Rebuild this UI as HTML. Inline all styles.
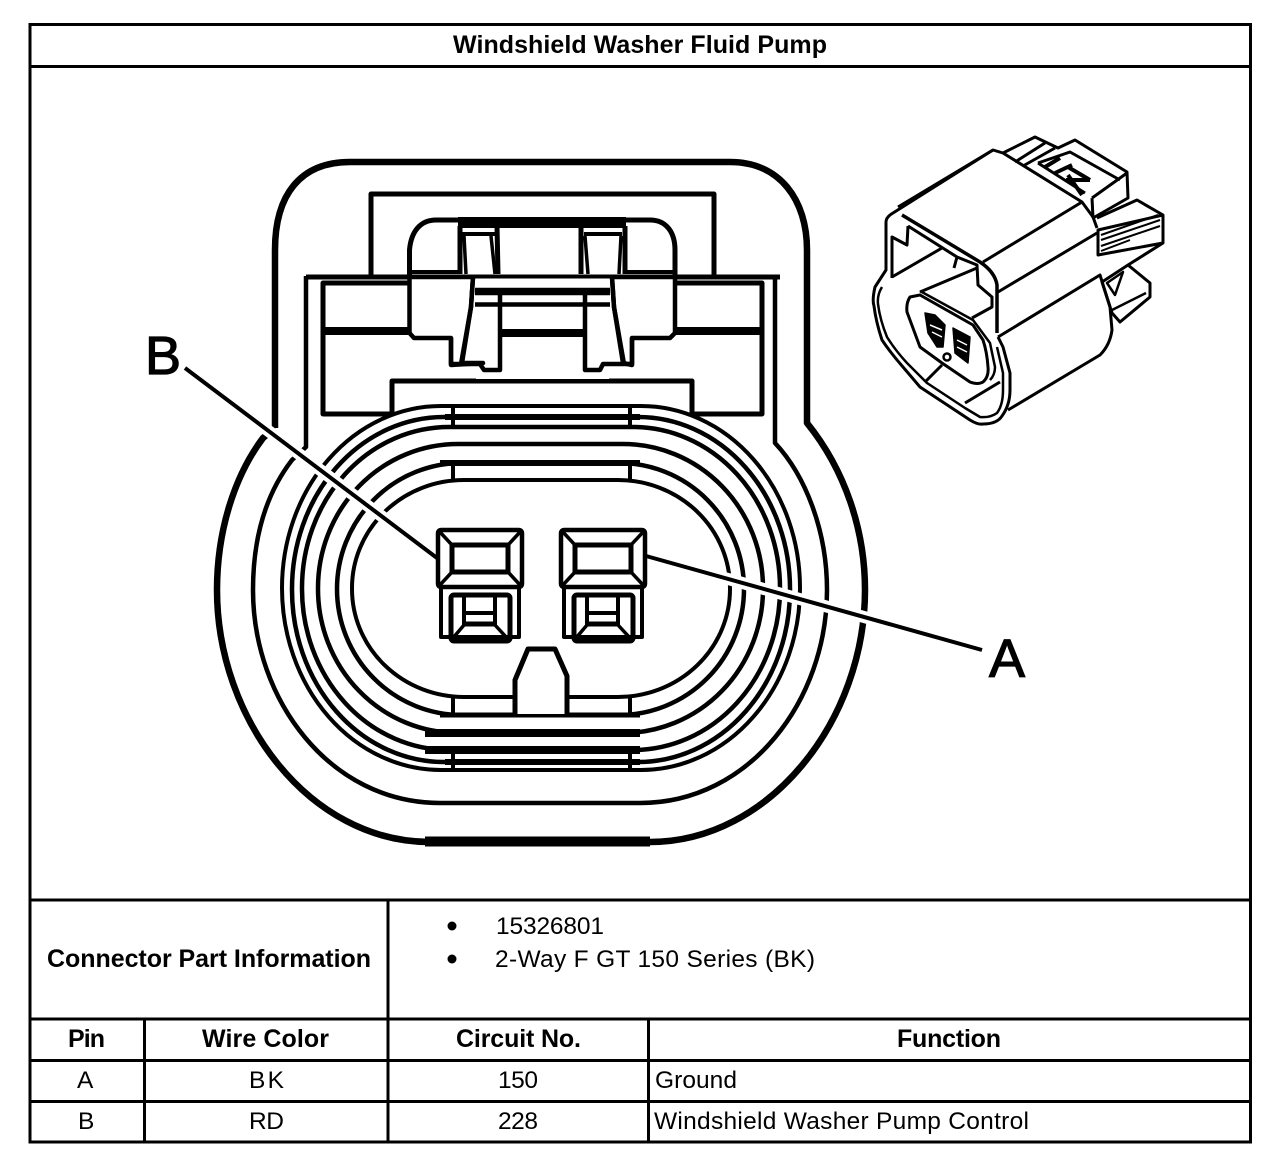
<!DOCTYPE html>
<html><head><meta charset="utf-8"><style>
html,body{margin:0;padding:0;background:#fff}
svg{display:block}
text{font-family:"Liberation Sans",Arial,sans-serif;font-size:24.500px;fill:#000}
.b{font-weight:bold;font-size:25px}
.k{fill:none;stroke:#000;stroke-linejoin:round}
.w{fill:#fff;stroke:#000;stroke-linejoin:round}
</style></head><body>
<svg width="1280" height="1164" viewBox="0 0 1280 1164" xmlns="http://www.w3.org/2000/svg">
<rect width="1280" height="1164" fill="#fff"/>
<!-- table -->
<g stroke="#000" stroke-width="3" fill="none">
<rect x="30" y="24.500" width="1220.500" height="1117.500"/>
<path d="M30 66.500H1250M30 900H1250M30 1019H1250M30 1060.500H1250M30 1101.500H1250M388 900V1142M144.500 1019V1142M648.500 1019V1142"/>
</g>
<text class="b" x="453" y="53" textLength="374" lengthAdjust="spacing">Windshield Washer Fluid Pump</text>
<text class="b" x="47" y="967" textLength="324" lengthAdjust="spacing">Connector Part Information</text>
<circle cx="452" cy="926" r="4.500"/><circle cx="452" cy="959" r="4.500"/>
<text x="496" y="934" textLength="108" lengthAdjust="spacing">15326801</text>
<text x="495" y="967" textLength="320" lengthAdjust="spacing">2-Way F GT 150 Series (BK)</text>
<text class="b" x="68" y="1047" textLength="37" lengthAdjust="spacing">Pin</text>
<text class="b" x="202" y="1047" textLength="127" lengthAdjust="spacing">Wire Color</text>
<text class="b" x="456" y="1047" textLength="125" lengthAdjust="spacing">Circuit No.</text>
<text class="b" x="897" y="1047" textLength="104" lengthAdjust="spacing">Function</text>
<text x="77" y="1088">A</text><text x="249" y="1088" textLength="35" lengthAdjust="spacing">BK</text><text x="498" y="1088" textLength="40" lengthAdjust="spacing">150</text>
<text x="655" y="1088" textLength="82" lengthAdjust="spacing">Ground</text>
<text x="78" y="1129">B</text><text x="249" y="1129" textLength="35" lengthAdjust="spacing">RD</text><text x="498" y="1129" textLength="40" lengthAdjust="spacing">228</text>
<text x="654" y="1129" textLength="375" lengthAdjust="spacing">Windshield Washer Pump Control</text>

<!-- outer shell -->
<path class="k" stroke-width="6.500" d="M275 428V250C275 195 300 162 350 162H730C780 162 807 200 807 250V423C845 470 865 530 865 590C865 720 770 842 650 842H430C310 842 217 720 217 590C217 530 235 475 263 438L275 428"/>
<path d="M425 841.500H650" stroke="#000" stroke-width="10"/>
<path class="k" stroke-width="4.500" d="M306 276V447L292 460C265 495 253 540 253 590C253 700 330 803 440 803H640C750 803 827 700 827 590C827 530 805 475 775 443V276"/>
<!-- housing -->
<path class="k" stroke-width="5" d="M306 277H780"/>
<path class="k" stroke-width="5" d="M371 277V194H714V277"/>
<rect class="k" stroke-width="5" x="323" y="283" width="439" height="131"/>
<path d="M323 331H408M675 331H762" stroke="#000" stroke-width="8"/>
<rect class="w" stroke-width="5" x="392" y="381" width="300" height="40"/>
<!-- latch -->
<rect x="411" y="223" width="262" height="150" fill="#fff"/>
<path class="k" stroke-width="5" d="M409.500 276V250C411 232 420 220 436 220H650C666 220 675 232 675 250V276"/>
<rect x="458" y="217" width="168" height="11"/>
<path d="M462 234H497M584 234H622" stroke="#000" stroke-width="4"/>
<path d="M460 226V274M497 226L498 274M581 226V274M625 226V274" stroke="#000" stroke-width="5"/>
<path class="k" stroke-width="3.500" d="M464 236L466 274M491 236L495 274M585 236L588 274M621 236L619 274"/>
<path d="M409 272H460M625 272H675M409 276.500H675" stroke="#000" stroke-width="4"/>
<rect x="476" y="279" width="133" height="100" fill="#fff"/>
<path class="w" stroke-width="4.500" d="M409.500 277H473L471 307L462 363H483V363L451 365V338H414L409.500 333Z"/>
<path class="w" stroke-width="4.500" d="M675 277H612L614 307L623 363L632 365V338H670L675 333Z"/>
<path class="k" stroke-width="4.500" d="M473 277L471 307L461 364M451 338V364H480L484 370H500V288M612 277L614 307L624 364M632 338V364H603L600 370H585V288"/>
<path d="M475 291.500H610" stroke="#000" stroke-width="7.500"/>
<path d="M475 304.500H610" stroke="#000" stroke-width="4.500"/>
<path d="M500 333H585" stroke="#000" stroke-width="8"/>
<!-- ovals -->
<rect class="w" stroke-width="4" x="282" y="406" width="518" height="364" rx="159" ry="182"/>
<rect class="w" stroke-width="4.500" x="292" y="417" width="498" height="345" rx="152" ry="172"/>
<rect class="w" stroke-width="4.500" x="302" y="427" width="478" height="323" rx="147" ry="161"/>
<rect class="w" stroke-width="4.500" x="318" y="444" width="445" height="289" rx="140" ry="144"/>
<rect class="w" stroke-width="4.500" x="337" y="463" width="407" height="252" rx="125" ry="126"/>
<rect class="w" stroke-width="4" x="352" y="480" width="378" height="217" rx="112" ry="108"/>
<path d="M453 406V427M630 406V427M453 463V480M630 463V480M453 697V715M630 697V715M453 750V770M630 750V770" stroke="#000" stroke-width="4"/>
<path d="M425 733H640M425 750H640" stroke="#000" stroke-width="8"/>
<path d="M445 762H640M445 417H640" stroke="#000" stroke-width="6"/>
<path d="M440 463H640" stroke="#000" stroke-width="6"/>
<path d="M440 715H640" stroke="#000" stroke-width="5"/>
<path class="w" stroke-width="5" d="M515 714V680L528 649H555L567 676V714"/>
<!-- leaders -->
<path d="M185 368L437 558M646 556L982 650" stroke="#fff" stroke-width="12"/>
<path d="M185 368L437 558M646 556L982 650" stroke="#000" stroke-width="4"/>
<!-- pins -->
<g>
<rect class="w" stroke-width="4.500" x="438" y="530" width="84" height="57" rx="3"/>
<rect class="k" stroke-width="5" x="452" y="545" width="56" height="27"/>
<path d="M439 531L452 545M521 531L508 545M439 586L452 572M521 586L508 572" stroke="#000" stroke-width="3.500"/>
<path class="k" stroke-width="4" d="M441 587V637H519V587"/>
<rect class="k" stroke-width="5" x="451" y="595" width="59" height="46" rx="3"/>
<path class="k" stroke-width="4" d="M464 597V625M495 597V625"/>
<path d="M464 613H495" stroke="#000" stroke-width="4"/>
<path d="M464 624H495" stroke="#000" stroke-width="5"/>
<path d="M464 625L453 638M495 625L507 638" stroke="#000" stroke-width="3.500"/>
</g>
<g transform="translate(123 0)">
<rect class="w" stroke-width="4.500" x="438" y="530" width="84" height="57" rx="3"/>
<rect class="k" stroke-width="5" x="452" y="545" width="56" height="27"/>
<path d="M439 531L452 545M521 531L508 545M439 586L452 572M521 586L508 572" stroke="#000" stroke-width="3.500"/>
<path class="k" stroke-width="4" d="M441 587V637H519V587"/>
<rect class="k" stroke-width="5" x="451" y="595" width="59" height="46" rx="3"/>
<path class="k" stroke-width="4" d="M464 597V625M495 597V625"/>
<path d="M464 613H495" stroke="#000" stroke-width="4"/>
<path d="M464 624H495" stroke="#000" stroke-width="5"/>
<path d="M464 625L453 638M495 625L507 638" stroke="#000" stroke-width="3.500"/>
</g>
<text x="145" y="374" style="font-size:54px;stroke:#000;stroke-width:1.200">B</text>
<text x="989" y="677" style="font-size:54px;stroke:#000;stroke-width:1.200">A</text>

<!-- isometric connector -->
<g fill="none" stroke="#000" stroke-width="3" stroke-linejoin="round">
<!-- flange -->
<path d="M993 150L893 213Q886 217 886 222V270L875 287Q872 300 874 306Q876 322 882 340Q890 352 903 367L920 387L970 420Q978 425 983 424Q997 424 1002 416Q1010 405 1010 390V373L1003 347L998 337"/>
<path d="M882 287Q877 295 878 304Q880 320 887 337Q895 350 907 363L927 383L965 408L980 417Q990 418 997 413Q1003 405 1003 390V373L997 347" stroke-width="2.500"/>
<!-- top -->
<path d="M1003 153L1035 137L1058 148L1075 140L1127 172L1128 198L1093 218"/>
<path d="M898 207L993 150L1003 153L1082 202L1093 217L1097 228" />
<path d="M902 215L980 262Q995 272 997 285V333" stroke-width="3.500"/>
<path d="M983 262L1082 202"/>
<path d="M908 226L957 257L977 265L978 285L992 297V307L972 318"/>
<path d="M892 278V237L907 245L908 226M892 277L942 248M920 292L977 268M957 257L954 268"/>
<!-- plug -->
<path d="M920 295L910 297Q906 303 907 312L920 347L942 363L970 382Q978 385 983 382Q989 377 988 367Q987 352 983 340L973 325Z"/>
<path d="M920 291L973 320L990 343L995 367Q995 375 990 380" stroke-width="2.500"/>
<path d="M942 365L925 382M965 403L1000 382"/>
<path d="M925 313L935 315L945 325L943 347L937 347L928 333Z" fill="#000" stroke-width="1.500"/>
<path d="M953 328L970 337L968 363L955 353Z" fill="#000" stroke-width="1.500"/>
<path d="M930 325L942 330M932 332L942 337M957 340L967 345M957 347L967 352" stroke="#fff" stroke-width="1.500"/>
<circle cx="947" cy="357" r="3.500" fill="#fff" stroke-width="2.500"/>
<!-- sides -->
<path d="M998 292L1097 233M998 337L1100 275L1110 307L1112 330Q1110 345 1100 355L1008 410"/>
<!-- rear block -->
<path d="M1015 162L1045 143M1023 166L1055 148M1092 198L1127 173M1092 198L1093 218"/>
<path d="M1038 163L1070 152L1120 180M1038 163L1085 193"/>
<path d="M1045 167L1060 158M1055 173L1072 165M1066 180L1090 180M1068 167L1090 180M1068 175L1082 195" stroke-width="4"/>
<!-- clip -->
<path d="M1097 218L1137 200L1163 215V243L1098 255V230L1163 215"/>
<path d="M1101 235L1158 215M1101 240L1160 220M1101 246L1160 226M1101 251L1130 240" stroke-width="2"/>
<!-- lower latch -->
<path d="M1163 243L1128 265L1150 283V297L1120 322L1112 313L1102 282L1128 265"/>
<path d="M1107 283L1123 272L1115 295ZM1112 310L1146 293" stroke-width="2.500"/>
</g>
</svg>
</body></html>
